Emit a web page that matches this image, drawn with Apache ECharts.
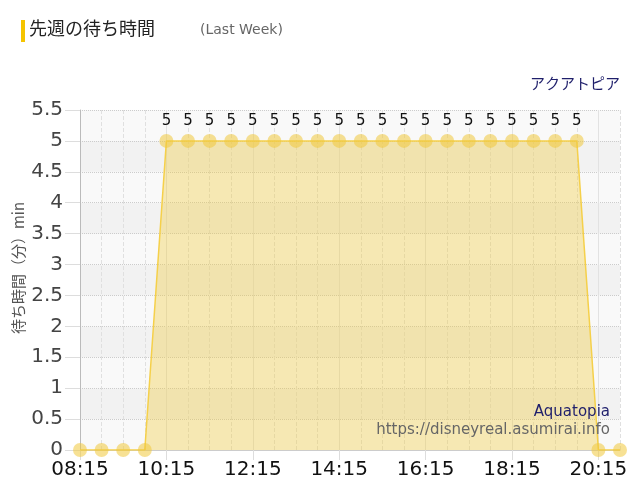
<!DOCTYPE html>
<html><head><meta charset="utf-8">
<script src="https://cdn.jsdelivr.net/npm/echarts@6/dist/echarts.min.js"></script>
<style>html,body{margin:0;padding:0;background:#fff}#c{width:640px;height:500px}</style>
</head><body><div id="c"></div>
<script>
const categories = ['08:15','08:45','09:15','09:45','10:15','10:45','11:15','11:45','12:15','12:45','13:15','13:45','14:15','14:45','15:15','15:45','16:15','16:45','17:15','17:45','18:15','18:45','19:15','19:45','20:15','20:45'];
const waitMinutes = [0,0,0,0,5,5,5,5,5,5,5,5,5,5,5,5,5,5,5,5,5,5,5,5,0,0];
const yTicks = {min:0, max:5.5, interval:0.5};
const titleText = '先週の待ち時間';
const subText = '(Last Week)';
const attrNameJa = 'アクアトピア';
const attrNameEn = 'Aquatopia';
const siteUrl = 'https://disneyreal.asumirai.info';
const yName = '待ち時間（分）min';

const font = '"DejaVu Sans","Noto Sans CJK JP",sans-serif';
const cjk = '"Noto Sans CJK JP","DejaVu Sans",sans-serif';
const chart = echarts.init(document.getElementById('c'));
chart.setOption({
  animation:false,
  textStyle:{fontFamily:font},
  grid:{left:80,right:20,top:110,bottom:50,containLabel:false,outerBoundsMode:'none'},
  graphic:[
    {type:'rect',z:100,shape:{x:21,y:20,width:4,height:22},style:{fill:'#f5c400'}},
    {type:'text',z:100,left:29,top:19,style:{text:titleText,font:'18px '+cjk,fill:'#222'}},
    {type:'text',z:100,left:200,top:23,style:{text:subText,font:'14px '+font,fill:'#666'}},
    {type:'text',z:100,right:20,top:76,style:{text:attrNameJa,font:'15px '+cjk,fill:'#1f1f6b'}},
    {type:'text',z:100,right:30,top:405,style:{text:attrNameEn,font:'15px '+font,fill:'#1f1f6b'}},
    {type:'text',z:100,right:30,top:423,style:{text:siteUrl,font:'15px '+font,fill:'#666'}},
    {type:'text',z:100,x:18,y:268,rotation:Math.PI/2,
      style:{text:yName,font:'15px '+cjk,fill:'#555',align:'center',verticalAlign:'middle'}}
  ],
  xAxis:[{
    type:'category',data:categories,boundaryGap:false,
    axisLine:{lineStyle:{color:'#ccc'}},
    axisTick:{show:true,interval:3,length:10,lineStyle:{color:'#ddd'}},
    axisLabel:{interval:3,fontSize:20,color:'#111',margin:10,fontFamily:font},
    splitLine:{show:true,interval:0,lineStyle:{color:'#e0e0e0',type:'dashed'}}
  },{
    type:'category',data:categories,boundaryGap:false,position:'bottom',
    axisLine:{show:false},axisTick:{show:false},axisLabel:{show:false},
    splitLine:{show:true,interval:3,lineStyle:{color:'#e2e2e2',type:'solid'}}
  }],
  yAxis:{
    type:'value',min:yTicks.min,max:yTicks.max,interval:yTicks.interval,
    axisLine:{show:true,lineStyle:{color:'#bbb'}},
    axisTick:{show:true,length:15,lineStyle:{color:'#ddd'}},
    axisLabel:{fontSize:20,color:'#444',margin:17,fontFamily:font},
    splitLine:{show:true,lineStyle:{color:'#ccc',type:'dotted'}},
    splitArea:{show:true,areaStyle:{color:['#f9f9f9','#f2f2f2']}}
  },
  series:[{
    type:'line',data:waitMinutes,xAxisIndex:0,
    symbol:'circle',symbolSize:14,showAllSymbol:true,
    itemStyle:{color:'rgba(240,200,60,0.55)'},
    lineStyle:{color:'#f5d04a',width:1.5},
    areaStyle:{color:'rgba(240,200,50,0.5)'},
    label:{show:true,position:'top',distance:5,fontSize:15,color:'#111',fontFamily:font,
      formatter:p=>p.value===0?'':String(p.value)}
  }]
});
</script></body></html>
